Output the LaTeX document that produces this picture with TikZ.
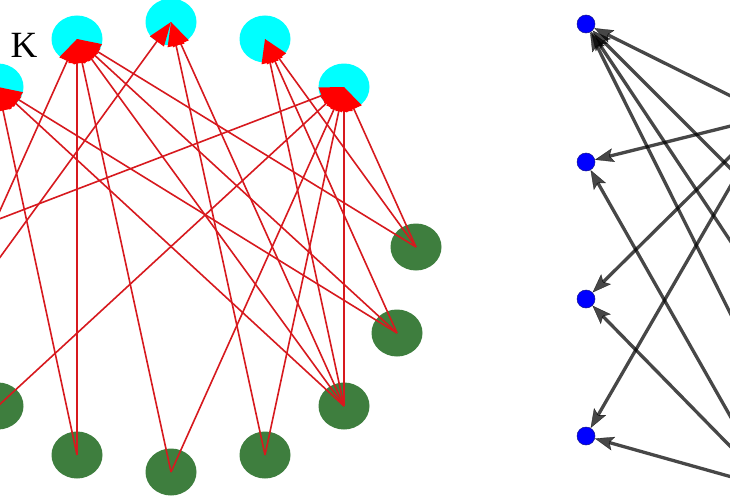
\documentclass[tikz,border=0pt]{standalone}
\usepackage{fontspec}
\setmainfont{Liberation Serif}
\usetikzlibrary{shapes.geometric,arrows.meta}
\definecolor{cyannode}{RGB}{0,255,255}
\definecolor{greennode}{RGB}{62,126,62}
\definecolor{redline}{RGB}{215,25,30}
\definecolor{redhead}{RGB}{255,0,0}
\definecolor{bluenode}{RGB}{0,0,255}
\definecolor{blueedge}{RGB}{20,20,140}
\begin{document}
\begin{tikzpicture}[x=1pt,y=-1pt,
  cnode/.style={ellipse,fill=cyannode,minimum width=51pt,minimum height=47pt,inner sep=0pt},
  gnode/.style={ellipse,fill=greennode,minimum width=51pt,minimum height=47pt,inner sep=0pt},
  redge/.style={draw=redline,line width=1.6pt,-{Triangle[length=24pt,width=17pt,color=redhead]}},
  bnode/.style={circle,fill=bluenode,draw=blueedge,line width=0.5pt,minimum size=18pt,inner sep=0pt},
  gedge/.style={draw=black,opacity=0.72,line width=3.3pt,-{Stealth[length=19pt,width=14pt,inset=4pt,line width=0.3pt]}},
  ktext/.style={font=\fontsize{37}{37}\selectfont,inner sep=0pt}
]
\useasboundingbox (0,0) rectangle (730,503);
\fill[white] (0,0) rectangle (730,503);
\begin{scope}
\clip (0,0) rectangle (730,503);
% left graph nodes
\node[cnode] (C1) at (-2,87) {};
\node[cnode] (C2) at (77,39) {};
\node[cnode] (C3) at (171,22) {};
\node[cnode] (C4) at (265,39) {};
\node[cnode] (C5) at (344,87) {};
\node[gnode] (G1) at (416,247) {};
\node[gnode] (G2) at (397,333) {};
\node[gnode] (G3) at (344,406) {};
\node[gnode] (G4) at (265,455) {};
\node[gnode] (G5) at (171,472) {};
\node[gnode] (G6) at (77,455) {};
\node[gnode] (G7) at (-2,406) {};
\coordinate (L0) at (-74,247);
\coordinate (L1) at (-55,333);
\node[ktext] (K) at (24,45) {K};
% left graph edges
\foreach \s/\t in {G1/C2,G1/C4,G1/C5,G2/C1,G2/C2,G2/C4,G3/C1,G3/C2,G3/C3,G3/C4,G3/C5,
                   G4/C3,G4/C5,G5/C2,G5/C5,G6/C1,G6/C2,G7/C5,L0/C5,L1/C2,L1/C3}
  \draw[redge] (\s.center) -- (\t.center);
% right graph
\node[bnode] (B1) at (586,24) {};
\node[bnode] (B2) at (586,162) {};
\node[bnode] (B3) at (586,299) {};
\node[bnode] (B4) at (586,436) {};
\coordinate (R1) at (771,116);
\coordinate (R2) at (771,209);
\coordinate (R3) at (771,302);
\coordinate (R4) at (771,395);
\coordinate (R5) at (771,488);
\foreach \s/\t in {R1/B1,R1/B2,R1/B3,R1/B4,R2/B1,R3/B1,R4/B1,R5/B2,R5/B3,R5/B4}
  \draw[gedge] (\s) -- (\t);
\end{scope}
\end{tikzpicture}
\end{document}
